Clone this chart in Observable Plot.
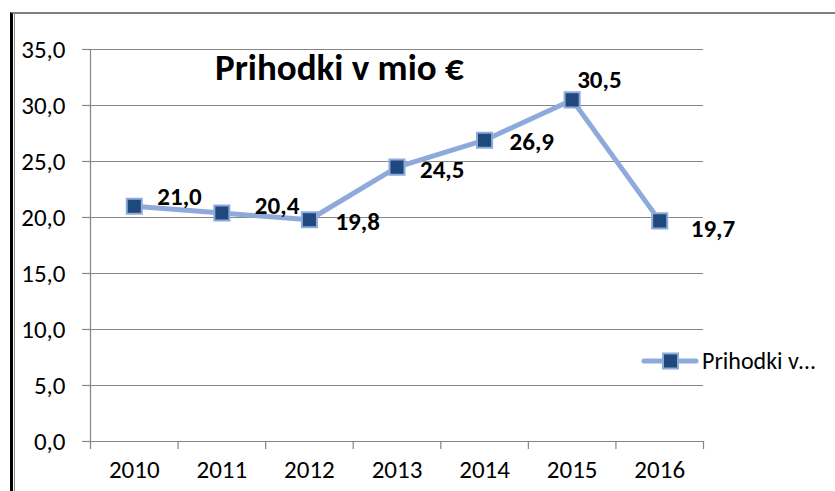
<!DOCTYPE html>
<html>
<head>
<meta charset="utf-8">
<script src="https://cdn.jsdelivr.net/npm/d3@7"></script>
<script src="https://cdn.jsdelivr.net/npm/@observablehq/plot@0.6"></script>
<style>
  body { margin: 0; background: #fff; }
  #wrap { position: relative; width: 835px; height: 491px; overflow: hidden; font-family: Carlito, Lato, sans-serif; }
  #frame { position: absolute; left: 10px; top: 12px; width: 840px; height: 490px; border-top: 2px solid #7f7f7f; border-left: 3px solid #000; box-sizing: border-box; }
  #frame2 { position: absolute; left: 14px; top: 13px; width: 1px; height: 480px; background: #8a8a8a; }
  #title { position: absolute; left: 215px; top: 49px; font-size: 37px; line-height: 37px; font-weight: bold; color: #000; white-space: nowrap; }
  #legend { position: absolute; left: 641px; top: 347px; display: flex; align-items: center; white-space: nowrap; font-size: 24px; line-height: 28px; color: #000; }
  #chart { position: absolute; left: 0; top: 0; }
</style>
</head>
<body>
<div id="wrap">
  <div id="chart"></div>
  <div id="frame"></div>
  <div id="frame2"></div>
  <div id="title">Prihodki v mio €</div>
  <div id="legend"></div>
</div>
<script>
const years = [2010, 2011, 2012, 2013, 2014, 2015, 2016];
const values = [21.0, 20.4, 19.8, 24.5, 26.9, 30.5, 19.7];
const yTicks = [0, 5, 10, 15, 20, 25, 30, 35];
const seriesName = "Prihodki v mio €";

const data = years.map((year, i) => ({year, value: values[i]}));
const boundaries = [years[0] - 0.5, ...years.map(y => y + 0.5)];
const fmt = d => d.toFixed(1).replace(".", ",");

// label offsets (px) relative to each point: [dx, dy]
const labelOffsets = [[23, -9], [33, -7], [26, 2], [23, 3], [25, 2], [5, -20], [31, 8]];

const lineColor = "#8EAADB";
const markerFill = "#1F497D";
const gridColor = "#868686";

const plot = Plot.plot({
  width: 835,
  height: 491,
  marginLeft: 90,
  marginRight: 132,
  marginTop: 49,
  marginBottom: 50,
  style: {fontFamily: "Carlito, Lato, sans-serif", fontSize: "25px", color: "#000", background: "transparent", overflow: "visible"},
  x: {type: "linear", domain: [boundaries[0], boundaries[boundaries.length - 1]]},
  y: {domain: [0, 35]},
  marks: [
    Plot.gridY(yTicks, {stroke: gridColor, strokeOpacity: 1, strokeWidth: 1.2}),
    Plot.frame({anchor: "left", stroke: gridColor, strokeWidth: 1.2}),
    Plot.frame({anchor: "bottom", stroke: gridColor, strokeWidth: 1.2}),
    Plot.axisY({ticks: yTicks, tickSize: 8, tickPadding: 17, tickFormat: fmt, stroke: gridColor, strokeWidth: 1.2, fill: "#000", fontSize: 25, label: null}),
    Plot.axisX({ticks: boundaries, tickSize: 8, tickFormat: () => "", stroke: gridColor, strokeWidth: 1.2, label: null}),
    Plot.axisX({ticks: years, tickSize: 0, tickPadding: 19, tickFormat: d => String(d), fill: "#000", fontSize: 25, label: null}),
    Plot.line(data, {x: "year", y: "value", stroke: lineColor, strokeWidth: 5}),
    Plot.dot(data, {x: "year", y: "value", symbol: "square", r: 8.5, fill: markerFill, stroke: lineColor, strokeWidth: 2}),
    ...data.map((d, i) => Plot.text([d], {
      x: "year", y: "value", text: e => fmt(e.value),
      dx: labelOffsets[i][0], dy: labelOffsets[i][1],
      textAnchor: "start", fontWeight: "bold", fontSize: 25, fill: "#000"
    }))
  ]
});
document.getElementById("chart").appendChild(plot);

// legend
const leg = document.getElementById("legend");
leg.innerHTML = `<svg width="58" height="28" style="display:block">
  <line x1="3" y1="14" x2="55" y2="14" stroke="${lineColor}" stroke-width="5" stroke-linecap="round"/>
  <rect x="22" y="6.5" width="15" height="15" fill="${markerFill}" stroke="${lineColor}" stroke-width="2"/>
</svg><span style="margin-left:3px">${seriesName.slice(0, 10)}…</span>`;
</script>
</body>
</html>
